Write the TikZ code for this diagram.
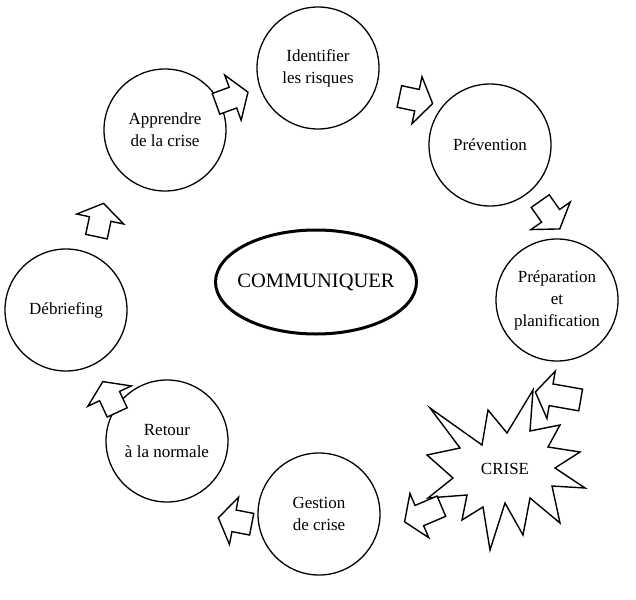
\documentclass[tikz,border=0pt]{standalone}
\usepackage{fontspec}
\setmainfont{Liberation Serif}
\usetikzlibrary{shapes.geometric}
\begin{document}
\begin{tikzpicture}[x=1pt,y=-1pt,
  stage/.style={circle, draw=black, line width=1.3pt, minimum size=122pt, inner sep=0pt, align=center, font=\fontsize{17}{22}\selectfont},
  centre/.style={ellipse, draw=black, line width=3pt, minimum width=201pt, minimum height=104pt, inner sep=0pt, font=\fontsize{20.5}{22}\selectfont},
  starline/.style={draw=black, fill=white, line width=1.4pt, line join=miter},
  arrowline/.style={draw=black, fill=white, line width=1.4pt, line join=miter},
  pics/barrow/.style={code={\draw[arrowline] ({-#1/2},-11) -- ({#1/2-16},-11) -- ({#1/2-16},-24) -- ({#1/2},0) -- ({#1/2-16},24) -- ({#1/2-16},11) -- ({-#1/2},11) -- cycle;}}]
\useasboundingbox (0,0) rectangle (636,599);
\fill[white] (0,0) rectangle (636,599);
\node[stage] (ident) at (318,68) {Identifier\\les risques};
\node[stage] (prev) at (490,145) {Prévention};
\node[stage] (prep) at (557,300) {Préparation\\et\\planification};
\node[stage] (gest) at (319,514) {Gestion\\de crise};
\node[stage] (ret) at (167,441) {Retour\\à la normale};
\node[stage] (debr) at (66,310) {Débriefing};
\node[stage] (appr) at (165,130) {Apprendre\\de la crise};
\node[centre] (comm) at (316,282) {\makebox[0pt]{COMMUNIQUER}};
\draw[starline]
  (533,390) -- (530,431) -- (560,425) -- (548,447) -- (580,452) -- (555,468) -- (585,488) -- (552,486) -- (560,523) -- (530,498) -- (523,535) -- (505,503) -- (490,550) -- (483,507) -- (462,520) -- (467,495) -- (428,498) -- (453,478) -- (427,455) -- (460,448) -- (430,408) -- (482,445) -- (488,410) -- (507,433) -- cycle;
\node[font=\fontsize{17}{20}\selectfont] (crise) at (505,469) {CRISE};
\pic[rotate=20] at (232,98) {barrow=34};
\pic[rotate=-12] at (416,100) {barrow=34};
\pic[rotate=-55] at (550,215) {barrow=34};
\pic[rotate=170] at (558,396) {barrow=46};
\pic[rotate=203] at (423,514) {barrow=40};
\pic[rotate=169] at (235,521) {barrow=34};
\pic[rotate=115] at (110,397) {barrow=34};
\pic[rotate=78] at (100,220) {barrow=34};
\end{tikzpicture}
\end{document}
